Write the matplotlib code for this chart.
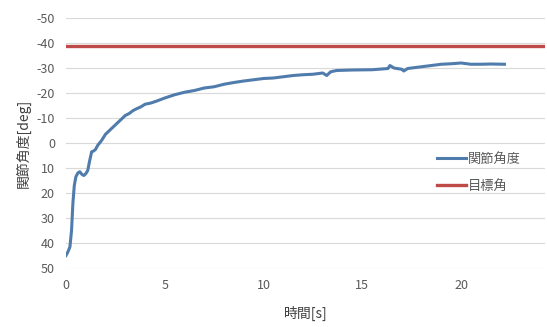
import matplotlib.pyplot as plt

plt.rcParams['font.family'] = ['Noto Sans CJK JP', 'DejaVu Sans']
plt.rcParams['axes.unicode_minus'] = False

# joint angle over time
time_s = [0.0, 0.1, 0.2, 0.28, 0.35, 0.42, 0.5, 0.6, 0.7, 0.8, 0.9, 1.0, 1.1,
          1.2, 1.3, 1.4, 1.5, 1.6, 1.7, 1.8, 2.0, 2.2, 2.4, 2.6, 2.8, 3.0,
          3.2, 3.4, 3.6, 3.8, 4.0, 4.3, 4.6, 5.0, 5.5, 6.0, 6.5, 7.0, 7.5,
          8.0, 8.5, 9.0, 9.5, 10.0, 10.5, 11.0, 11.5, 12.0, 12.5, 13.0,
          13.2, 13.4, 13.7, 14.5, 15.5, 16.3, 16.4, 16.6, 17.0, 17.1, 17.3,
          18.0, 18.5, 19.0, 19.5, 20.0, 20.5, 21.0, 21.5, 22.2]
joint_angle = [45, 43.5, 41.5, 35, 24, 17, 13.5, 12, 11.5, 12.5, 13, 12.3, 11,
               7, 3.5, 3.2, 2.5, 1, 0, -1, -3.5, -5, -6.5, -8, -9.5, -11,
               -11.8, -13, -13.8, -14.5, -15.5, -16, -16.8, -18, -19.3, -20.3,
               -21, -22, -22.5, -23.5, -24.2, -24.8, -25.3, -25.8, -26, -26.5,
               -27, -27.3, -27.5, -28, -27, -28.5, -29, -29.2, -29.3, -29.8,
               -31, -30, -29.5, -28.8, -29.8, -30.5, -31, -31.5, -31.7, -32,
               -31.5, -31.5, -31.6, -31.5]
target_angle = -39

fig = plt.figure(figsize=(5.47, 3.27), dpi=100)
ax = fig.add_axes([66 / 547, 1 - 268 / 327, 479 / 547, 250 / 327])

ax.plot(time_s, joint_angle, color='#4F7CAC', lw=2.2, label='関節角度')
ax.axhline(target_angle, color='#BE4B48', lw=2.4, label='目標角')

ax.set_xlim(0, 24.25)
ax.set_ylim(50, -50)
ax.set_xticks([0, 5, 10, 15, 20])
ax.set_yticks(range(-50, 51, 10))
ax.grid(axis='y', color='#D9D9D9', lw=0.8)
ax.set_axisbelow(True)
for s in ax.spines.values():
    s.set_visible(False)
ax.tick_params(length=0, colors='#595959', labelsize=9, pad=8)

ax.set_xlabel('時間[s]', fontsize=10, color='#404040', labelpad=10)
ax.set_ylabel('関節角度[deg]', fontsize=10, color='#404040', labelpad=4)

ax.legend(loc='center left', bbox_to_anchor=(0.75, 0.38), frameon=False,
          fontsize=9.5, handlelength=2.2, handletextpad=0.1, labelspacing=1.05,
          labelcolor='#595959')

fig.savefig('out.png', dpi=100)
